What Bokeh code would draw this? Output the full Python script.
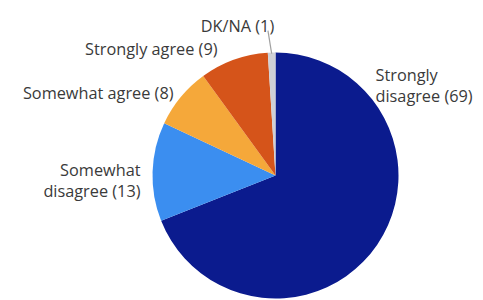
import numpy as np
from bokeh.plotting import figure
from bokeh.models import Range1d, ColumnDataSource
from bokeh.core.properties import value
from bokeh.embed import file_html
from bokeh.resources import INLINE

# Data (clockwise from 12 o'clock)
categories = ["Strongly disagree", "Somewhat disagree", "Somewhat agree", "Strongly agree", "DK/NA"]
values = [69, 13, 8, 9, 1]
colors = ["#0b1b8e", "#3b8ef0", "#f5a83a", "#d5541a", "#cfd0d6"]

W, H = 483, 300
p = figure(width=W, height=H, output_backend="svg", toolbar_location=None,
           x_range=Range1d(0, W), y_range=Range1d(0, H), min_border=0)
p.axis.visible = False
p.grid.visible = False
p.outline_line_color = None
p.background_fill_color = "white"
p.border_fill_color = "white"

cx, cy, r = 275, 125, 123
vals = np.array(values, dtype=float)
frac = vals / vals.sum()
cum_end = np.cumsum(frac)
cum_start = cum_end - frac
start = np.pi / 2 - cum_start * 2 * np.pi
end = np.pi / 2 - cum_end * 2 * np.pi

src = ColumnDataSource(dict(start=start, end=end, color=colors, cat=categories))
p.wedge(x=cx, y=cy, radius=r, start_angle="start", end_angle="end",
        direction="clock", fill_color="color", line_color=None, source=src)

# leader line for DK/NA
mid = (start[4] + end[4]) / 2
p.segment(x0=cx + (r + 22) * np.cos(mid) - 3, y0=cy + (r + 22) * np.sin(mid),
          x1=cx + (r - 1) * np.cos(mid), y1=cy + (r - 1) * np.sin(mid),
          line_color="#a0a0a0", line_width=1.2)

font = value("Open Sans")
tc = "#3a3a3a"
fs = "16.3px"

def lab(x, y, t, align):
    p.text(x=[x], y=[y], text=[t], text_font=font, text_font_size=fs,
           text_color=tc, text_align=align, text_baseline="alphabetic")

lab(237, 275, f"{categories[4]} ({values[4]})", "center")
lab(217, 252, f"{categories[3]} ({values[3]})", "right")
lab(173, 208, f"{categories[2]} ({values[2]})", "right")
lab(140, 131, "Somewhat", "right")
lab(140, 110, f"disagree ({values[1]})", "right")
lab(375, 226, "Strongly", "left")
lab(375, 205, f"disagree ({values[0]})", "left")

open("out.html", "w").write(file_html(p, INLINE))
